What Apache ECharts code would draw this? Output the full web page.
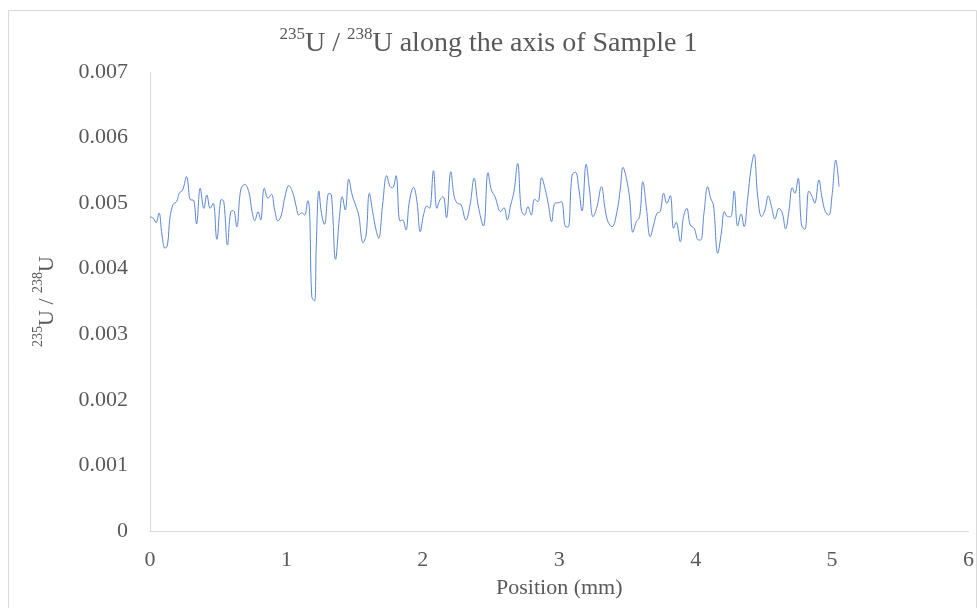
<!DOCTYPE html>
<html>
<head>
<meta charset="utf-8">
<script src="https://cdn.jsdelivr.net/npm/echarts@6/dist/echarts.min.js"></script>
<style>
html,body{margin:0;padding:0;background:#fff;}
#chart{width:977px;height:608px;}
</style>
</head>
<body>
<div id="chart"></div>
<script>
// Position (mm)
const positions = [0,0.024,0.044,0.066,0.088,0.110,0.128,0.146,0.170,0.195,0.214,0.239,0.268,0.298,0.317,0.341,0.368,0.395,0.417,0.441,0.463,0.490,0.524,0.541,0.568,0.592,0.612,0.636,0.665,0.694,0.724,0.748,0.768,0.792,0.811,0.838,0.865,0.890,0.914,0.938,0.963,0.987,1.018,1.048,1.072,1.091,1.113,1.133,1.157,1.170,1.186,1.206,1.219,1.238,1.257,1.279,1.311,1.330,1.360,1.389,1.409,1.431,1.457,1.482,1.511,1.530,1.562,1.584,1.608,1.632,1.657,1.676,1.705,1.735,1.760,1.779,1.803,1.833,1.852,1.876,1.901,1.932,1.957,1.981,2.005,2.030,2.049,2.078,2.103,2.125,2.149,2.173,2.205,2.230,2.254,2.279,2.315,2.346,2.376,2.405,2.444,2.478,2.502,2.529,2.571,2.595,2.619,2.644,2.668,2.695,2.722,2.746,2.770,2.795,2.819,2.844,2.871,2.895,2.919,2.944,2.968,2.997,3.017,3.046,3.065,3.094,3.119,3.143,3.167,3.197,3.222,3.248,3.277,3.309,3.337,3.358,3.387,3.423,3.448,3.467,3.492,3.516,3.540,3.565,3.589,3.613,3.638,3.667,3.692,3.716,3.740,3.765,3.789,3.814,3.838,3.857,3.887,3.911,3.935,3.960,3.989,4.020,4.037,4.062,4.088,4.110,4.130,4.162,4.189,4.211,4.235,4.257,4.282,4.308,4.333,4.355,4.381,4.406,4.428,4.454,4.483,4.508,4.532,4.556,4.581,4.610,4.635,4.659,4.683,4.708,4.727,4.751,4.776,4.800,4.830,4.854,4.873,4.903,4.927,4.951,4.976,5.000,5.027,5.051];
// 235U/238U ratio
const ratios = [0.004793,0.004769,0.004702,0.004850,0.004514,0.004311,0.004362,0.004769,0.004982,0.005022,0.005150,0.005201,0.005403,0.005048,0.005048,0.004682,0.005227,0.004921,0.005124,0.004921,0.004998,0.004449,0.005059,0.005022,0.004362,0.004870,0.004885,0.004641,0.005201,0.005287,0.005175,0.004870,0.004732,0.004870,0.004743,0.005227,0.005074,0.005135,0.004896,0.004728,0.004819,0.005074,0.005266,0.005150,0.004946,0.004819,0.004854,0.004819,0.005037,0.004870,0.003573,0.003508,0.004362,0.005185,0.004845,0.004677,0.005150,0.005124,0.004144,0.004793,0.005098,0.004896,0.005364,0.005124,0.004946,0.004819,0.004397,0.004514,0.005150,0.004870,0.004591,0.004464,0.004972,0.005419,0.005251,0.005236,0.005419,0.004728,0.004743,0.004591,0.005022,0.005242,0.005022,0.004565,0.004819,0.004957,0.004921,0.005495,0.004921,0.005048,0.005098,0.004778,0.005480,0.005098,0.004998,0.004982,0.004743,0.004972,0.005379,0.004972,0.004652,0.005465,0.005201,0.005098,0.004870,0.004931,0.004743,0.004972,0.005175,0.005608,0.004896,0.004819,0.004946,0.004819,0.005059,0.005022,0.005388,0.005227,0.004998,0.004717,0.004998,0.005007,0.005022,0.004641,0.004636,0.005429,0.005471,0.005227,0.004880,0.005593,0.005201,0.004793,0.004946,0.005251,0.004896,0.004712,0.004641,0.004870,0.005227,0.005547,0.005379,0.005074,0.004555,0.004717,0.004793,0.005327,0.004946,0.004488,0.004667,0.004845,0.004870,0.005150,0.004998,0.005114,0.004616,0.004708,0.004412,0.004793,0.004921,0.004667,0.004616,0.004438,0.004438,0.004870,0.005251,0.005074,0.004972,0.004235,0.004560,0.004870,0.004793,0.004793,0.005185,0.004652,0.004835,0.004641,0.005074,0.005531,0.005745,0.005124,0.004793,0.004896,0.005109,0.004946,0.004758,0.004921,0.004850,0.004606,0.004870,0.005236,0.005150,0.005379,0.004667,0.004601,0.005185,0.005098,0.004998,0.005353,0.005074,0.004870,0.004819,0.005124,0.005658,0.005251];
const xTicks = [0,1,2,3,4,5,6];
const yTicks = [0,0.001,0.002,0.003,0.004,0.005,0.006,0.007];

const seriesData = positions.map((p, i) => [p, ratios[i]]);
const SERIF = "'Liberation Serif','Times New Roman',serif";
const GREY = '#595959';

const chart = echarts.init(document.getElementById('chart'), null, {renderer: 'canvas'});
chart.setOption({
  animation: false,
  backgroundColor: '#ffffff',
  graphic: [{
    type: 'rect',
    shape: {x: 8.5, y: 10.5, width: 968, height: 640},
    style: {fill: 'none', stroke: '#d9d9d9', lineWidth: 1},
    silent: true
  }],
  title: {
    text: '{sup|235}{n|U / }{sup|238}{n|U along the axis of Sample 1}',
    left: 'center',
    top: 21,
    textStyle: {
      fontWeight: 'normal',
      rich: {
        n: {fontFamily: SERIF, fontSize: 28, fontWeight: 'normal', color: GREY, lineHeight: 32, verticalAlign: 'bottom'},
        sup: {fontFamily: SERIF, fontSize: 17, fontWeight: 'normal', color: GREY, lineHeight: 32, verticalAlign: 'top'}
      }
    }
  },
  grid: {left: 150, right: 6, top: 72, bottom: 77, containLabel: false},
  xAxis: {
    type: 'value',
    min: xTicks[0], max: xTicks[xTicks.length-1], interval: 1,
    name: 'Position (mm)',
    nameLocation: 'middle',
    nameGap: 46,
    nameTextStyle: {fontFamily: SERIF, fontSize: 22, color: GREY},
    axisLine: {show: true, lineStyle: {color: '#d9d9d9', width: 1}},
    axisTick: {show: false},
    splitLine: {show: false},
    axisLabel: {fontFamily: SERIF, fontSize: 22, color: GREY, margin: 18}
  },
  yAxis: {
    type: 'value',
    min: yTicks[0], max: yTicks[yTicks.length-1], interval: 0.001,
    name: '{sup|235}{n|U / }{sup|238}{n|U}',
    nameLocation: 'middle',
    nameRotate: 90,
    nameGap: 92,
    nameTextStyle: {
      rich: {
        n: {fontFamily: SERIF, fontSize: 22, color: GREY, lineHeight: 27, verticalAlign: 'bottom'},
        sup: {fontFamily: SERIF, fontSize: 14, color: GREY, lineHeight: 27, verticalAlign: 'top'}
      }
    },
    axisLine: {show: true, lineStyle: {color: '#d9d9d9', width: 1}},
    axisTick: {show: false},
    splitLine: {show: false},
    axisLabel: {fontFamily: SERIF, fontSize: 22, color: GREY, margin: 22,
      formatter: v => v === 0 ? '0' : v.toFixed(3)}
  },
  series: [{
    type: 'line',
    data: seriesData,
    smooth: 0.4,
    showSymbol: false,
    lineStyle: {color: '#5b87d6', width: 1}
  }]
});
</script>
</body>
</html>
